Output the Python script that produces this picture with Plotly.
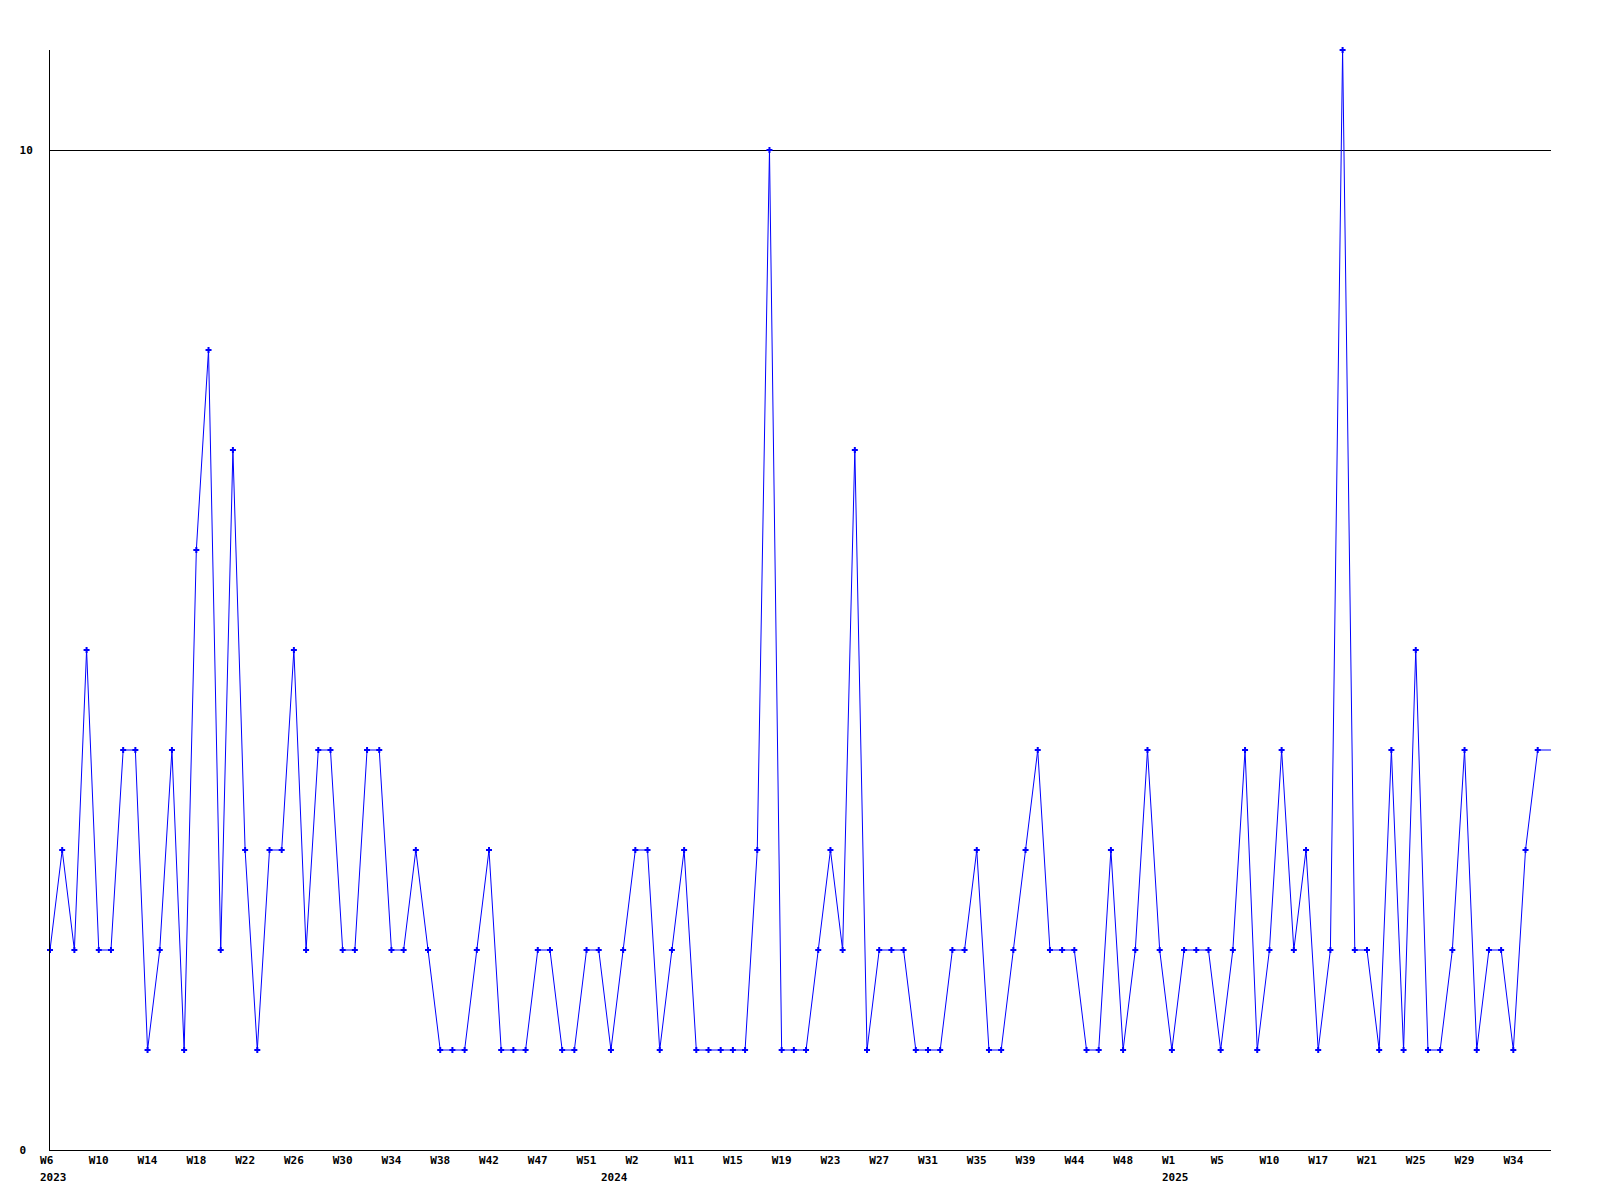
import plotly.graph_objects as go

# ---- data ----
years = [2023] * 46 + [2024] * 46 + [2025] * 31

weeks = (
    # 2023
    [6, 7, 8, 9, 10, 11, 12, 13, 14, 15, 16, 17, 18, 19, 20, 21, 22, 23, 24, 25,
     26, 27, 28, 29, 30, 31, 32, 33, 34, 35, 36, 37, 38, 39, 40, 41, 42,
     43, 44, 45, 47, 48, 49, 50, 51, 52]
    # 2024
    + [0, 1, 2, 4, 7, 9, 11, 12, 13, 14, 15, 16, 17, 18, 19, 20, 21, 22, 23, 24,
       25, 26, 27, 28, 29, 30, 31, 32, 33, 34, 35, 36, 37, 38, 39, 40, 41, 42,
       44, 45, 46, 47, 48, 49, 50, 52]
    # 2025
    + [1, 2, 3, 4, 5, 6, 7, 8, 10, 11, 13, 15, 17, 18, 19, 20, 21, 22, 23, 24,
       25, 26, 27, 28, 29, 30, 31, 33, 34, 35, 36]
)

counts = [
    2, 3, 2, 5, 2, 2, 4, 4, 1, 2,
    4, 1, 6, 8, 2, 7, 3, 1, 3, 3,
    5, 2, 4, 4, 2, 2, 4, 4, 2, 2,
    3, 2, 1, 1, 1, 2, 3, 1, 1, 1,
    2, 2, 1, 1, 2, 2, 1, 2, 3, 3,
    1, 2, 3, 1, 1, 1, 1, 1, 3, 10,
    1, 1, 1, 2, 3, 2, 7, 1, 2, 2,
    2, 1, 1, 1, 2, 2, 3, 1, 1, 2,
    3, 4, 2, 2, 2, 1, 1, 3, 1, 2,
    4, 2, 1, 2, 2, 2, 1, 2, 4, 1,
    2, 4, 2, 3, 1, 2, 11, 2, 2, 1,
    4, 1, 5, 1, 1, 2, 4, 1, 2, 2,
    1, 3, 4,
]

tick_labels = ["W6", "W10", "W14", "W18", "W22", "W26", "W30", "W34", "W38", "W42",
               "W47", "W51", "W2", "W11", "W15", "W19", "W23", "W27", "W31", "W35",
               "W39", "W44", "W48", "W1", "W5", "W10", "W17", "W21", "W25", "W29",
               "W34"]
y_ticks = [0, 10]

# ---- build ----
cats = [f"{y}-W{w:02d}" for y, w in zip(years, weeks)]
tickvals = cats[::4]
ticktext = [t if len(t) >= 3 else t + "\u00a0" for t in tick_labels]

FONT = dict(family="DejaVu Sans Mono", size=11, color="black", weight="bold")
BLUE = "#0000ff"

fig = go.Figure(
    go.Scatter(
        x=cats, y=counts, mode="lines+markers",
        line=dict(color=BLUE, width=1),
        marker=dict(symbol="cross", size=5, color=BLUE, line=dict(width=0)),
        cliponaxis=False, showlegend=False,
    )
)

n = len(cats)
xmax = n - 1 + 1.09

# flat continuation of the last value to the right edge
fig.add_shape(type="line", xref="x", yref="y", x0=n - 1, x1=xmax,
              y0=counts[-1], y1=counts[-1], line=dict(color=BLUE, width=1))

# year labels under the first week of each year
seen = set()
for i, y in enumerate(years):
    if y not in seen:
        seen.add(y)
        fig.add_annotation(x=cats[i], y=0, xref="x", yref="paper", text=str(y),
                           showarrow=False, xanchor="left", yanchor="middle",
                           xshift=-12, yshift=-27, font=FONT)

fig.update_layout(
    width=1600, height=1200,
    margin=dict(l=50, r=49, t=50, b=50),
    paper_bgcolor="white", plot_bgcolor="white",
    showlegend=False,
)
fig.update_xaxes(
    type="category", range=[0, xmax],
    tickvals=tickvals, ticktext=ticktext, tickfont=FONT, tickangle=0,
    showline=True, linecolor="black", linewidth=1,
    showgrid=False, zeroline=False, ticks="",
)
fig.update_yaxes(
    range=[0, 11], tickvals=y_ticks,
    ticktext=[("%d" % v) + ("\u00a0" if v < 10 else "") for v in y_ticks],
    tickfont=FONT,
    showline=True, linecolor="black", linewidth=1,
    showgrid=True, gridcolor="black", gridwidth=1, zeroline=False, ticks="",
    ticklabelstandoff=14,
)

fig.write_html("out.html", config={"displayModeBar": False},
               post_script="document.body.style.margin='0px';")
